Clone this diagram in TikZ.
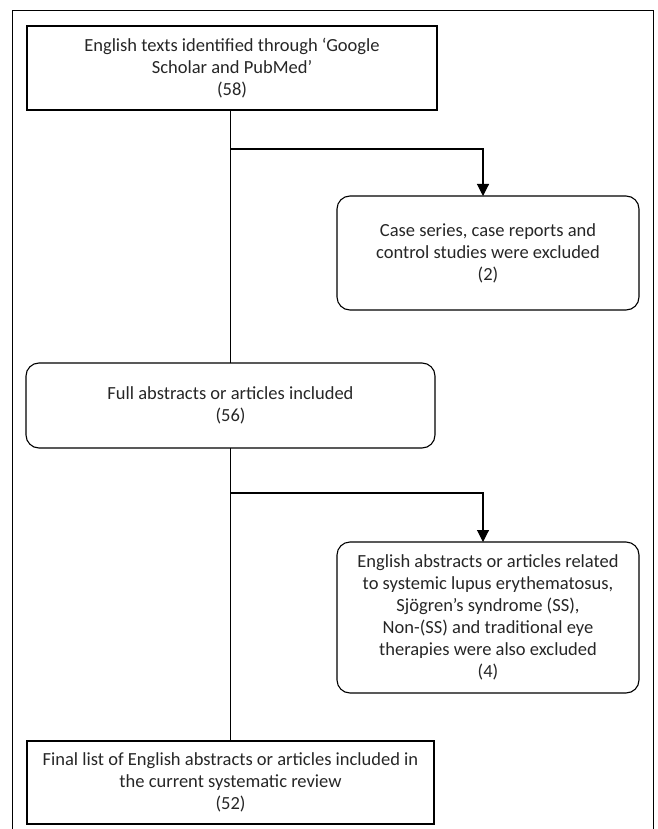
\documentclass[tikz,border=0pt]{standalone}
\usepackage{fontspec}
\setmainfont{Carlito}
\usetikzlibrary{arrows.meta}
\definecolor{txtgray}{HTML}{262626}
\begin{document}
\begin{tikzpicture}[x=1pt,y=-1pt,
  every node/.style={inner sep=0pt, outer sep=0pt},
  sqbox/.style={draw=black, line width=1.1pt, text=txtgray, align=center,
    font=\fontsize{18.5}{22}\selectfont},
  rbox/.style={sqbox, rounded corners=13pt},
  conn/.style={draw=black, line width=1.1pt},
  arr/.style={conn, -{Triangle[width=12pt,length=12pt]}}]
\useasboundingbox (0,0) rectangle (657,829);
\draw[line width=1pt] (12,829) -- (12,11) -- (653,11) -- (653,829);

\node[sqbox, minimum width=410pt, minimum height=84pt] (top) at (232,68)
  {English texts identified through ‘Google\\Scholar and PubMed’\\(58)};
\node[rbox, minimum width=302pt, minimum height=114pt] (ex1) at (488,253)
  {Case series, case reports and\\control studies were excluded\\(2)};
\node[rbox, minimum width=409pt, minimum height=85pt] (full) at (230.5,405.5)
  {Full abstracts or articles included\\(56)};
\node[rbox, minimum width=302pt, minimum height=151pt] (ex2) at (488,617.5)
  {English abstracts or articles related\\to systemic lupus erythematosus,\\Sjögren’s syndrome (SS),\\Non-(SS) and traditional eye\\therapies were also excluded\\(4)};
\node[sqbox, minimum width=407pt, minimum height=83pt] (final) at (230.5,782.5)
  {Final list of English abstracts or articles included in\\the current systematic review\\(52)};

\coordinate (j1) at (230.7,149);
\coordinate (j2) at (230.7,493);
\draw[conn] (top.south -| j1) -- (full.north -| j1);
\draw[conn] (full.south -| j1) -- (final.north -| j1);
\draw[arr] (j1) -| (ex1.north -| 483,0);
\draw[arr] (j2) -| (ex2.north -| 483,0);
\end{tikzpicture}
\end{document}
